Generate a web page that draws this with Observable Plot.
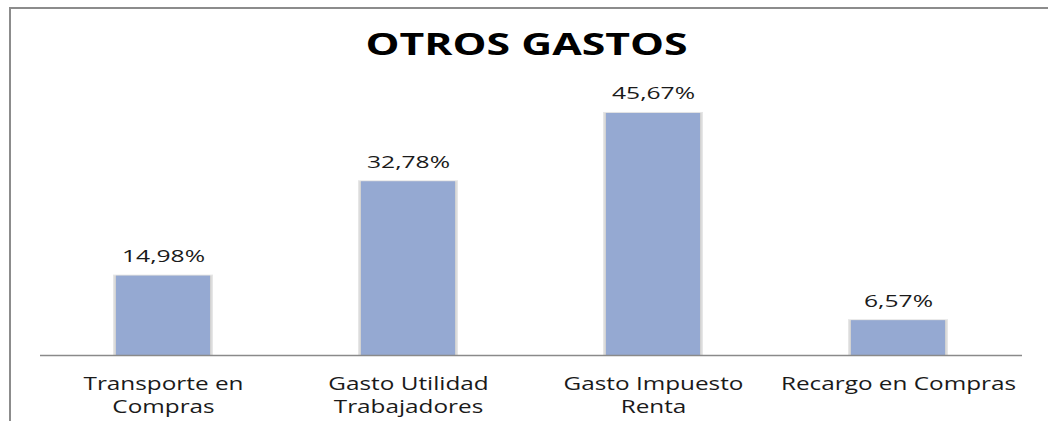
<!DOCTYPE html>
<html>
<head>
<meta charset="utf-8">
<script src="https://cdn.jsdelivr.net/npm/d3@7"></script>
<script src="https://cdn.jsdelivr.net/npm/@observablehq/plot@0.6"></script>
<style>
  html, body { margin: 0; padding: 0; background: #fff; }
  #wrap { position: relative; width: 1048px; height: 421px; overflow: hidden; }
  #frame { position: absolute; left: 9px; top: 7px; right: -4px; bottom: -4px;
           border-top: 2px solid #8c8c8c; border-left: 2px solid #8c8c8c; }
  #chart { position: absolute; left: 0; top: 0; }
</style>
</head>
<body>
<div id="wrap"><div id="frame"></div><div id="chart"></div></div>
<script>
const title = "OTROS GASTOS";
const categories = ["Transporte en\nCompras", "Gasto Utilidad\nTrabajadores", "Gasto Impuesto\nRenta", "Recargo en Compras"];
const values = [14.98, 32.78, 45.67, 6.57];
const valueLabels = ["14,98%", "32,78%", "45,67%", "6,57%"];

const data = categories.map((c, i) => ({cat: c, value: values[i], label: valueLabels[i]}));

const chart = Plot.plot({
  width: 1048,
  height: 421,
  marginLeft: 40,
  marginRight: 26,
  marginTop: 90,
  marginBottom: 66,
  style: {background: "transparent", fontFamily: "'Open Sans', sans-serif"},
  x: {domain: categories, paddingInner: 0.616, paddingOuter: 0.308, axis: null},
  y: {domain: [0, 50], axis: null},
  marks: [
    Plot.barY(data, {x: "cat", y: "value", fill: "#e6e6e6", insetLeft: -3, insetRight: -3, insetTop: -1}),
    Plot.barY(data, {x: "cat", y: "value", fill: "#d2d2d2", insetLeft: -1.5, insetRight: -1.5}),
    Plot.barY(data, {x: "cat", y: "value", fill: "#95a9d2"}),
    Plot.ruleY([0], {stroke: "#8a8a8a", strokeWidth: 1.5}),
    Plot.text(data, {x: "cat", y: "value", text: "label", lineAnchor: "bottom", dy: -14, fontSize: 17, fill: "#1a1a1a"}),
    Plot.text(data, {x: "cat", y: 0, text: "cat", lineAnchor: "top", dy: 18.5, fontSize: 19, lineHeight: 1.21, fill: "#1a1a1a"}),
    Plot.text([title], {frameAnchor: "top", text: d => d, lineAnchor: "bottom", dy: -36, dx: -5, fontSize: 29.5, fontWeight: "bold", fill: "#000"})
  ]
});
document.getElementById("chart").appendChild(chart);

function stretchEl(el, s) {
  const b = el.getBBox();
  const cx = b.x + b.width / 2;
  const t = el.getAttribute("transform") || "";
  el.setAttribute("transform", `${t} translate(${cx},0) scale(${s},1) translate(${-cx},0)`.trim());
}
chart.querySelectorAll("text").forEach(el => {
  const s = el.textContent;
  if (s === title) stretchEl(el, 1.45);
  else if (valueLabels.includes(s)) stretchEl(el, 1.45);
  else stretchEl(el, 1.28);
});
</script>
</body>
</html>
